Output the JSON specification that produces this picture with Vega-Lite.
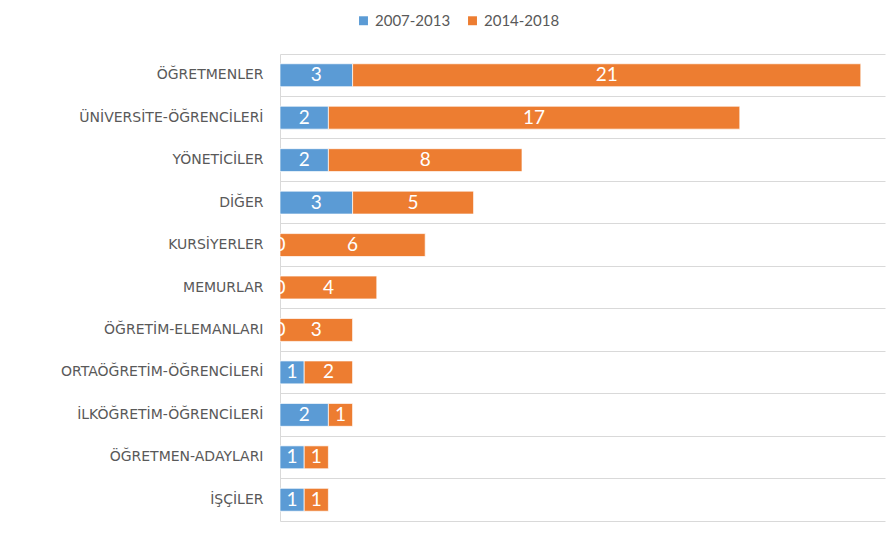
{
  "$schema": "https://vega.github.io/schema/vega-lite/v6.json",
  "autosize": {"type": "none"},
  "padding": {"left": 280, "top": 54, "right": 3, "bottom": 14},
  "width": 605,
  "height": 467,
  "background": "white",
  "config": {"view": {"stroke": null}, "font": "Lato"},
  "data": {"values": [
    {"grup": "ÖĞRETMENLER", "donem": "2007-2013", "sira": 1, "n": 3},
    {"grup": "ÖĞRETMENLER", "donem": "2014-2018", "sira": 2, "n": 21},
    {"grup": "ÜNİVERSİTE-ÖĞRENCİLERİ", "donem": "2007-2013", "sira": 1, "n": 2},
    {"grup": "ÜNİVERSİTE-ÖĞRENCİLERİ", "donem": "2014-2018", "sira": 2, "n": 17},
    {"grup": "YÖNETİCİLER", "donem": "2007-2013", "sira": 1, "n": 2},
    {"grup": "YÖNETİCİLER", "donem": "2014-2018", "sira": 2, "n": 8},
    {"grup": "DİĞER", "donem": "2007-2013", "sira": 1, "n": 3},
    {"grup": "DİĞER", "donem": "2014-2018", "sira": 2, "n": 5},
    {"grup": "KURSİYERLER", "donem": "2007-2013", "sira": 1, "n": 0},
    {"grup": "KURSİYERLER", "donem": "2014-2018", "sira": 2, "n": 6},
    {"grup": "MEMURLAR", "donem": "2007-2013", "sira": 1, "n": 0},
    {"grup": "MEMURLAR", "donem": "2014-2018", "sira": 2, "n": 4},
    {"grup": "ÖĞRETİM-ELEMANLARI", "donem": "2007-2013", "sira": 1, "n": 0},
    {"grup": "ÖĞRETİM-ELEMANLARI", "donem": "2014-2018", "sira": 2, "n": 3},
    {"grup": "ORTAÖĞRETİM-ÖĞRENCİLERİ", "donem": "2007-2013", "sira": 1, "n": 1},
    {"grup": "ORTAÖĞRETİM-ÖĞRENCİLERİ", "donem": "2014-2018", "sira": 2, "n": 2},
    {"grup": "İLKÖĞRETİM-ÖĞRENCİLERİ", "donem": "2007-2013", "sira": 1, "n": 2},
    {"grup": "İLKÖĞRETİM-ÖĞRENCİLERİ", "donem": "2014-2018", "sira": 2, "n": 1},
    {"grup": "ÖĞRETMEN-ADAYLARI", "donem": "2007-2013", "sira": 1, "n": 1},
    {"grup": "ÖĞRETMEN-ADAYLARI", "donem": "2014-2018", "sira": 2, "n": 1},
    {"grup": "İŞÇİLER", "donem": "2007-2013", "sira": 1, "n": 1},
    {"grup": "İŞÇİLER", "donem": "2014-2018", "sira": 2, "n": 1}
  ]},
  "encoding": {
    "y": {
      "field": "grup", "type": "nominal",
      "sort": ["ÖĞRETMENLER", "ÜNİVERSİTE-ÖĞRENCİLERİ", "YÖNETİCİLER", "DİĞER", "KURSİYERLER", "MEMURLAR", "ÖĞRETİM-ELEMANLARI", "ORTAÖĞRETİM-ÖĞRENCİLERİ", "İLKÖĞRETİM-ÖĞRENCİLERİ", "ÖĞRETMEN-ADAYLARI", "İŞÇİLER"],
      "scale": {"paddingInner": 0, "paddingOuter": 0},
      "axis": {
        "title": null, "ticks": false, "grid": true, "gridColor": "#d9d9d9", "gridWidth": 1,
        "bandPosition": 0, "labelLimit": 0,
        "domain": true, "domainColor": "#d9d9d9",
        "labelPadding": 17, "labelFontSize": 14, "labelColor": "#595959", "labelFont": "DejaVu Sans"
      }
    },
    "x": {
      "field": "n", "type": "quantitative", "stack": "zero",
      "scale": {"domain": [0, 25], "nice": false},
      "axis": {"title": null, "labels": false, "ticks": false, "grid": false, "domain": true, "domainColor": "#d9d9d9"}
    },
    "order": {"field": "sira", "type": "quantitative"}
  },
  "layer": [
    {
      "mark": {"type": "bar", "height": {"band": 0.54}, "stroke": "white", "strokeWidth": 0.7},
      "encoding": {
        "color": {
          "field": "donem", "type": "nominal",
          "scale": {"domain": ["2007-2013", "2014-2018"], "range": ["#5B9BD5", "#ED7D31"]},
          "legend": {
            "title": null, "orient": "none", "direction": "horizontal",
            "legendX": 76, "legendY": -41,
            "symbolType": "square", "symbolSize": 80, "symbolStrokeWidth": 0,
            "labelFontSize": 15, "labelColor": "#595959", "labelFont": "Lato",
            "columnPadding": 14, "symbolOffset": 0, "labelOffset": 4
          }
        }
      }
    },
    {
      "mark": {"type": "text", "color": "white", "fontSize": 19, "font": "Lato", "align": "center", "baseline": "middle"},
      "encoding": {
        "x": {"field": "n", "type": "quantitative", "stack": "zero", "bandPosition": 0.5},
        "detail": {"field": "donem"},
        "text": {"field": "n", "type": "quantitative"}
      }
    }
  ]
}
